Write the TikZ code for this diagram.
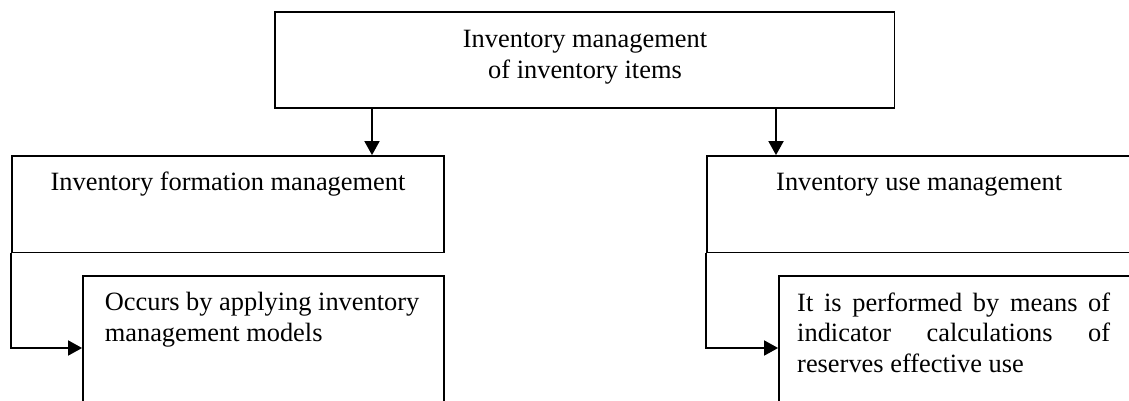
\documentclass[tikz,border=0pt]{standalone}
\usepackage{fontspec}
\setmainfont{Liberation Serif}
\usetikzlibrary{arrows.meta}
\begin{document}
\begin{tikzpicture}[x=1pt,y=1pt,
  box/.style={draw, line width=1.8pt, inner sep=0pt},
  lbl/.style={inner sep=0pt, font=\fontsize{26.4pt}{30.5pt}\selectfont},
  arr/.style={line width=1.8pt, -{Triangle[length=14pt,width=15pt]}}]
\useasboundingbox (0,0) rectangle (1129,-401);
\clip (0,0) rectangle (1129,-401);
% boxes
\node[box, minimum width=619.5pt, minimum height=96pt] (top) at (584.75,-60.3) {};
\node[box, minimum width=432pt, minimum height=96.5pt] (midL) at (228,-204.25) {};
\node[box, minimum width=432pt, minimum height=96.5pt] (midR) at (923,-204.25) {};
\node[box, minimum width=361pt, minimum height=150pt] (botL) at (263.5,-351) {};
\node[box, minimum width=361pt, minimum height=150pt] (botR) at (959.5,-351) {};
% texts
\node[lbl, anchor=base] (topT) at (585,-48) {\parbox[t]{600pt}{\centering Inventory management\\ of inventory items}};
\node[lbl, anchor=base] (midLT) at (228,-190) {Inventory formation management};
\node[lbl, anchor=base west] (midRT) at (776,-190) {Inventory use management};
\node[lbl, anchor=base west] (botLT) at (104.6,-310.5) {\parbox[t]{330pt}{Occurs by applying inventory\\management models}};
\node[lbl, anchor=base west] (botRT) at (797,-311) {\parbox[t]{313pt}{\makebox[313pt][s]{It is performed by means of}\\\makebox[313pt][s]{indicator calculations of}\\reserves effective use}};
% connectors
\coordinate (aL) at (372,0);
\coordinate (aR) at (776,0);
\coordinate (yA) at (0,-348);
\draw[arr] (top.south -| aL) -- (midL.north -| aL);
\draw[arr] (top.south -| aR) -- (midR.north -| aR);
\draw[arr] (midL.south west) |- (botL.west |- yA);
\draw[arr] (midR.south west) |- (botR.west |- yA);
\end{tikzpicture}
\end{document}
